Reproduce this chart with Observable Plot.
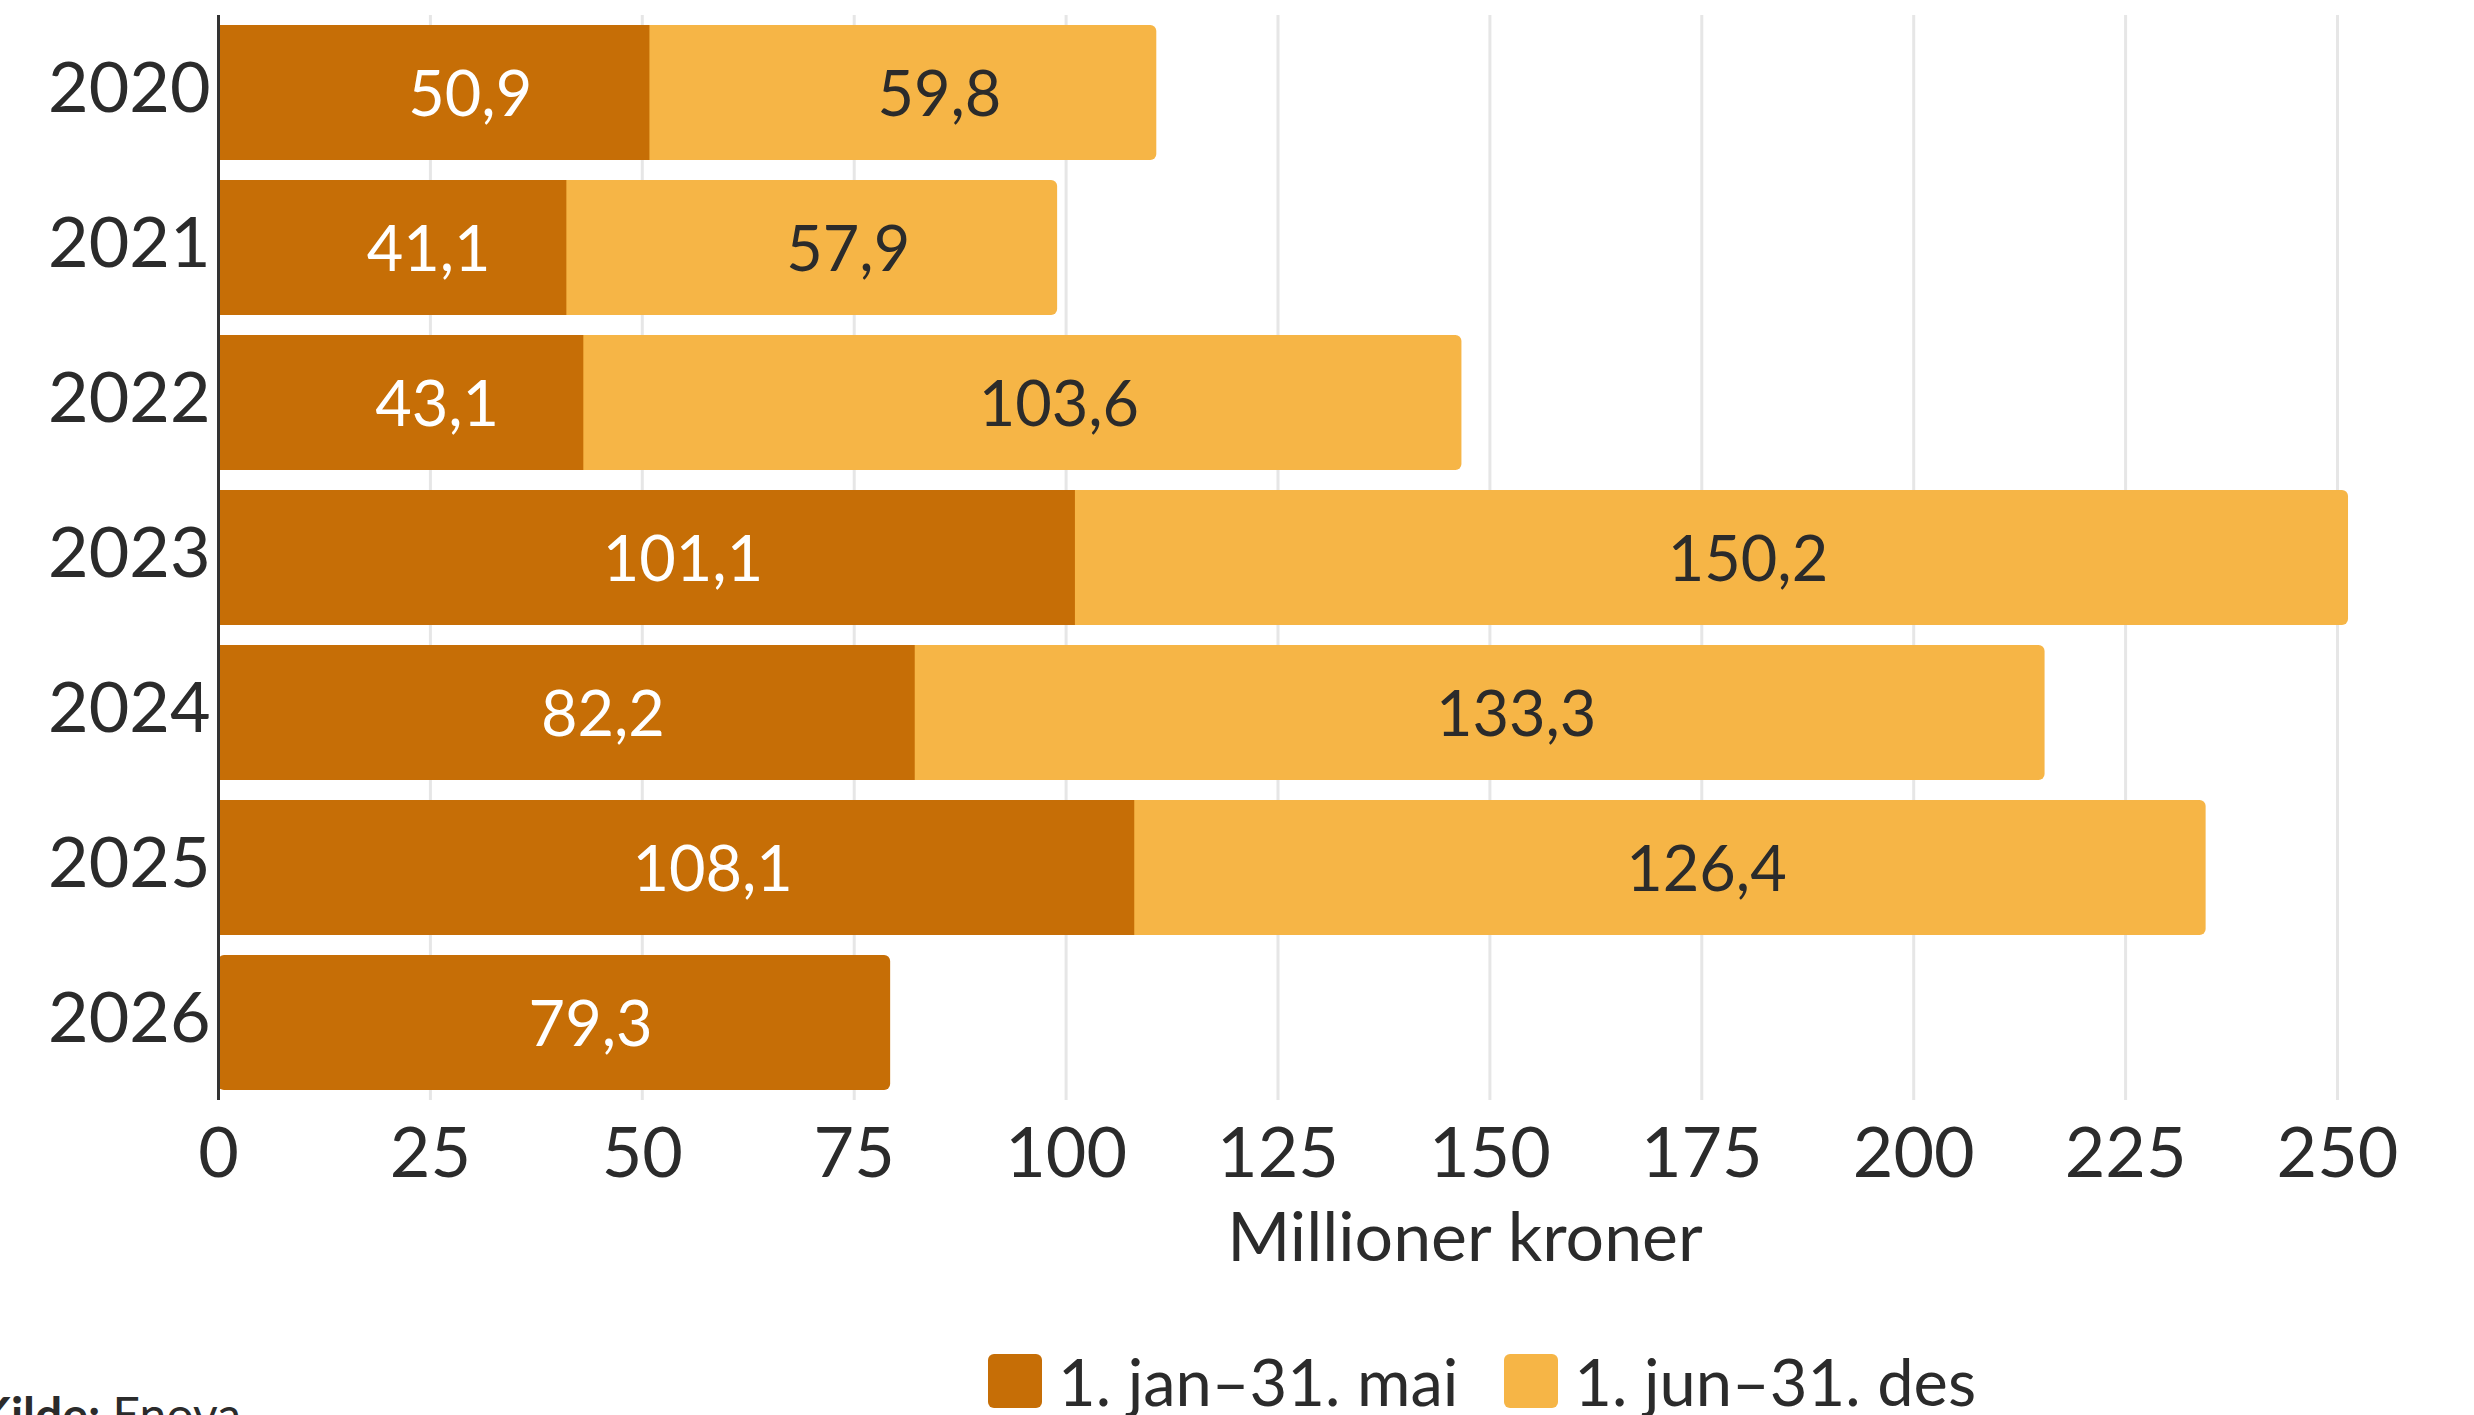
<!DOCTYPE html>
<html>
<head>
<meta charset="utf-8">
<script src="https://cdn.jsdelivr.net/npm/d3@7"></script>
<script src="https://cdn.jsdelivr.net/npm/@observablehq/plot@0.6"></script>
<style>
  html, body { margin: 0; padding: 0; background: #fff; overflow: hidden; }
  body { font-family: Lato, "Noto Sans", sans-serif; color: #2b2b2b; }
  #wrap { position: relative; width: 2474px; height: 1415px; }
  #legend { position: absolute; left: 988px; top: 1342px; display: flex; align-items: center; font-size: 65px; white-space: nowrap; }
  .item { display: flex; align-items: center; margin-right: 46px; }
  .sw { width: 54px; height: 54px; border-radius: 6px; margin-right: 16px; }
  #source { position: absolute; left: -22px; top: 1385px; font-size: 48px; white-space: nowrap; }
</style>
</head>
<body>
<div id="wrap">
  <div id="chart"></div>
  <div id="legend"></div>
  <div id="source"><b>Kilde:</b> Enova</div>
</div>
<script>
const years = ["2020", "2021", "2022", "2023", "2024", "2025", "2026"];
const janMai = [50.9, 41.1, 43.1, 101.1, 82.2, 108.1, 79.3];
const junDes = [59.8, 57.9, 103.6, 150.2, 133.3, 126.4, null];
const periods = ["1. jan–31. mai", "1. jun–31. des"];
const colors = ["#C66E06", "#F6B546"];
const xTicks = [0, 25, 50, 75, 100, 125, 150, 175, 200, 225, 250];
const xTitle = "Millioner kroner";

const rows = [];
years.forEach((y, i) => {
  rows.push({year: y, period: periods[0], value: janMai[i], start: 0, end: janMai[i], hasNext: junDes[i] != null});
  if (junDes[i] != null) {
    rows.push({year: y, period: periods[1], value: junDes[i], start: janMai[i], end: janMai[i] + junDes[i], hasNext: false});
  }
});
const lastSegs = rows.filter(d => !d.hasNext);
const innerSegs = rows.filter(d => d.hasNext);
const fmt = v => v.toFixed(1).replace(".", ",");

const chart = Plot.plot({
  width: 2474,
  height: 1330,
  marginLeft: 218,
  marginRight: 137,
  marginTop: 15,
  marginBottom: 230,
  style: {fontFamily: "Lato, 'Noto Sans', sans-serif", color: "#2b2b2b", background: "#fff"},
  x: {domain: [0, 250]},
  y: {type: "band", domain: years, paddingInner: 0.13, paddingOuter: 0.065},
  color: {domain: periods, range: colors},
  marks: [
    Plot.gridX(xTicks, {stroke: "#e6e6e6", strokeOpacity: 1, strokeWidth: 3}),
    Plot.barX(lastSegs, {x1: 0, x2: "end", y: "year", fill: "period", rx: 6}),
    Plot.barX(innerSegs, {x1: "start", x2: "end", y: "year", fill: "period"}),
    Plot.text(rows, {
      x: d => (d.start + d.end) / 2, y: "year", text: d => fmt(d.value),
      fill: d => d.period === periods[0] ? "#ffffff" : "#2b2b2b",
      dx: 36, dy: 3, fontSize: 63
    }),
    Plot.ruleX([0], {stroke: "#333", strokeWidth: 3}),
    Plot.axisX(xTicks, {tickSize: 0, tickPadding: 27, fontSize: 70, label: null, tickFormat: d => String(d)}),
    Plot.axisY({tickSize: 0, tickPadding: 8, fontSize: 70, label: null, dy: -3}),
    Plot.text([xTitle], {frameAnchor: "bottom", dx: 187, dy: 160, fontSize: 68, fill: "#2b2b2b"})
  ]
});
document.getElementById("chart").appendChild(chart);

const legend = document.getElementById("legend");
periods.forEach((p, i) => {
  const item = document.createElement("div");
  item.className = "item";
  const sw = document.createElement("div");
  sw.className = "sw";
  sw.style.background = colors[i];
  const t = document.createElement("span");
  t.textContent = p;
  item.appendChild(sw);
  item.appendChild(t);
  legend.appendChild(item);
});
</script>
</body>
</html>
